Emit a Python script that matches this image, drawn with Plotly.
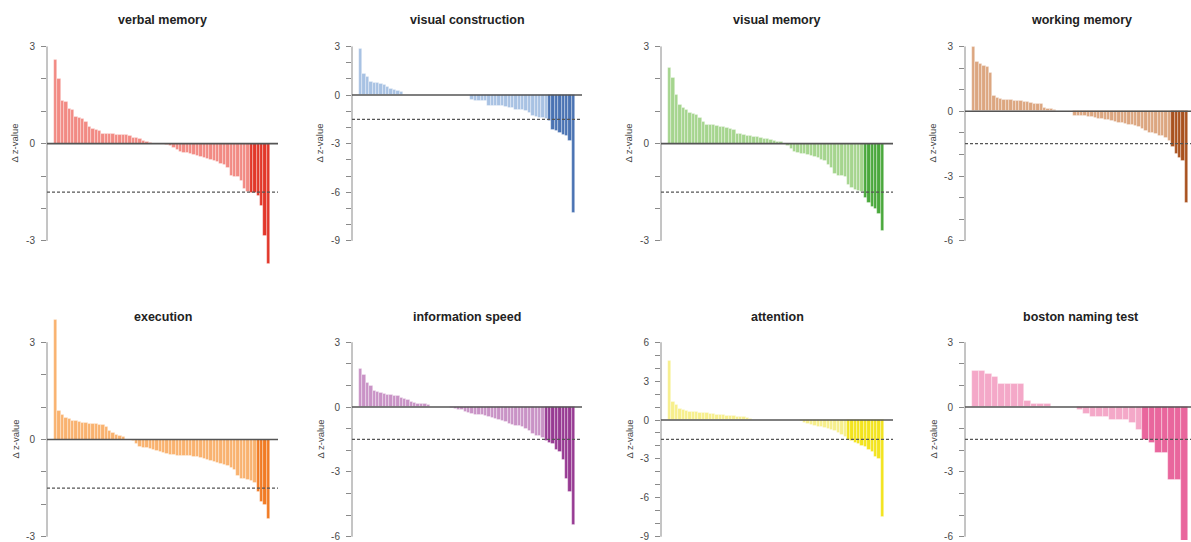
import plotly.graph_objects as go

# ---------------- data ----------------
titles = ["verbal memory", "visual construction", "visual memory", "working memory",
          "execution", "information speed", "attention", "boston naming test"]

verbal_memory = [2.6, 2.0, 1.33, 1.3, 1.08, 1.03, 0.82, 0.79, 0.77, 0.66,
                 0.53, 0.47, 0.43, 0.38, 0.31, 0.30, 0.29, 0.29, 0.28, 0.28,
                 0.27, 0.26, 0.23, 0.19, 0.17, 0.14, 0.10, 0.04, 0.02,
                 0, 0, 0, 0,
                 -0.04, -0.08, -0.13, -0.18, -0.24, -0.27, -0.29, -0.31, -0.34, -0.37,
                 -0.41, -0.44, -0.47, -0.49, -0.52, -0.57, -0.62, -0.67, -0.75, -1.0,
                 -1.02, -1.03, -1.16, -1.39, -1.49,
                 -1.52, -1.52, -1.62, -1.93, -2.85, -3.72]

visual_construction = [2.82, 1.28, 1.12, 0.81, 0.75, 0.72, 0.70, 0.60, 0.50, 0.37, 0.33, 0.27, 0.2,
                       0, 0, 0, 0, 0, 0, 0, 0, 0, 0, 0, 0, 0, 0, 0, 0, 0, 0, 0, 0,
                       -0.29, -0.33, -0.33, -0.33, -0.33, -0.66, -0.66, -0.66, -0.66, -0.66,
                       -0.75, -0.79, -0.79, -0.89, -0.89, -0.91, -0.95, -1.12, -1.26, -1.37,
                       -1.41, -1.41, -1.47,
                       -1.61, -2.15, -2.19, -2.36, -2.48, -2.5, -2.86, -7.27]

visual_memory = [2.33, 2.02, 1.51, 1.2, 1.1, 1.03, 0.94, 0.91, 0.88, 0.79,
                 0.66, 0.59, 0.58, 0.57, 0.55, 0.52, 0.51, 0.50, 0.46, 0.43,
                 0.31, 0.29, 0.27, 0.25, 0.23, 0.22, 0.21, 0.18, 0.16, 0.14,
                 0.12, 0.08, 0.06, 0.04,
                 0,
                 -0.08, -0.15, -0.24, -0.29, -0.31, -0.32, -0.34, -0.37, -0.41, -0.45,
                 -0.49, -0.54, -0.65, -0.75, -0.92, -1.0, -1.0, -1.03, -1.26, -1.36,
                 -1.42, -1.47, -1.49,
                 -1.67, -1.83, -1.95, -2.01, -2.18, -2.7]

working_memory = [2.99, 2.29, 2.17, 2.09, 2.06, 1.78, 0.70, 0.62, 0.57, 0.54,
                  0.53, 0.51, 0.50, 0.48, 0.47, 0.43, 0.42, 0.40, 0.36, 0.34,
                  0.33, 0.14, 0.12, 0.11, 0.08, 0.03,
                  0, 0, 0, 0,
                  -0.2, -0.22, -0.22, -0.23, -0.25, -0.26, -0.29, -0.34, -0.37, -0.39,
                  -0.40, -0.45, -0.51, -0.54, -0.56, -0.59, -0.62, -0.65, -0.7, -0.74,
                  -0.81, -0.91, -0.98, -1.01, -1.07, -1.13, -1.16, -1.24, -1.35,
                  -1.66, -1.97, -2.16, -2.31, -4.26]

execution = [3.69, 0.87, 0.77, 0.67, 0.64, 0.58, 0.56, 0.54, 0.52, 0.51,
             0.49, 0.48, 0.47, 0.46, 0.44, 0.40, 0.26, 0.21, 0.15, 0.11, 0.07,
             0, 0,
             -0.05, -0.15, -0.24, -0.26, -0.27, -0.28, -0.31, -0.34, -0.38, -0.41,
             -0.44, -0.46, -0.48, -0.49, -0.50, -0.50, -0.51, -0.52, -0.53, -0.54,
             -0.56, -0.59, -0.64, -0.67, -0.69, -0.72, -0.75, -0.77, -0.82, -0.89,
             -0.95, -1.13, -1.21, -1.23, -1.26, -1.28, -1.33,
             -1.62, -1.92, -2.03, -2.46]

information_speed = [1.77, 1.49, 1.11, 0.97, 0.77, 0.69, 0.66, 0.62, 0.57, 0.55,
                     0.54, 0.54, 0.42, 0.38, 0.32, 0.26, 0.2, 0.15, 0.15, 0.14, 0.08, 0.03,
                     0, 0, 0, 0, 0,
                     -0.05, -0.08, -0.11, -0.15, -0.2, -0.26, -0.32, -0.34, -0.35, -0.38,
                     -0.42, -0.46, -0.49, -0.54, -0.58, -0.63, -0.69, -0.77, -0.82, -0.85,
                     -0.88, -0.91, -1.0, -1.12, -1.22, -1.31, -1.35, -1.43,
                     -1.58, -1.65, -1.71, -2.0, -2.08, -2.42, -3.31, -3.92, -5.46]

attention = [4.59, 1.43, 1.15, 0.84, 0.77, 0.71, 0.66, 0.64, 0.61, 0.59,
             0.56, 0.54, 0.51, 0.46, 0.43, 0.41, 0.38, 0.36, 0.33, 0.31,
             0.28, 0.26, 0.23, 0.18, 0.1,
             0, 0, 0, 0, 0, 0, 0, 0, 0, 0, 0, 0, 0, 0,
             -0.1, -0.2, -0.31, -0.41, -0.46, -0.51, -0.56, -0.61, -0.69, -0.77,
             -0.87, -0.97, -1.12, -1.28,
             -1.53, -1.63, -1.73, -1.84, -1.96, -2.09, -2.3, -2.47, -2.86, -2.98, -7.5]

boston_naming = [1.69, 1.69, 1.54, 1.38, 1.08, 1.08, 1.08, 1.08, 0.31, 0.15, 0.15, 0.15,
                 0, 0, 0, 0,
                 -0.12, -0.32, -0.46, -0.46, -0.46, -0.6, -0.6, -0.6, -0.74, -1.05,
                 -1.52, -1.66, -2.12, -2.12, -3.38, -3.38, -6.4]

series = [verbal_memory, visual_construction, visual_memory, working_memory,
          execution, information_speed, attention, boston_naming]

tick_ranges = [(-3, 3), (-9, 3), (-3, 3), (-6, 3),
               (-3, 3), (-6, 3), (-9, 6), (-6, 3)]

threshold = -1.5

light_colors = ["#F28A83", "#A8C2E3", "#A5D58E", "#DCA680",
                "#F9B26F", "#C993C6", "#F7EF8C", "#F4A8C8"]
dark_colors = ["#E2372A", "#4A73B3", "#4AA83C", "#A9521F",
               "#F17B24", "#973B93", "#F3E41E", "#E9669D"]

# ---------------- layout geometry (pixels) ----------------
W, H = 1191, 542
col_left = [47, 352, 661, 965]
col_right = [278, 582, 893, 1191]
bar_pad_left = 7
bar_span = 216
rows = [  # plot-area top, bottom, pixel of tick-high, pixel of tick-low, title y
    dict(top=36, bottom=276, hi_px=46.6, lo_px=241.7, title_y=20),
    dict(top=312, bottom=542, hi_px=343.5, lo_px=538.7, title_y=318),
]

fig = go.Figure()
layout = dict(
    width=W, height=H, margin=dict(l=0, r=0, t=0, b=0),
    plot_bgcolor="white", paper_bgcolor="white",
    showlegend=False, bargap=0,
    font=dict(family="Liberation Sans, Arial, sans-serif", color="#444"),
)
shapes = []
annotations = []

for i, vals in enumerate(series):
    r, c = divmod(i, 4)
    row = rows[r]
    n = len(vals)
    k = "" if i == 0 else str(i + 1)
    xa, ya = "x" + k, "y" + k

    colors = [dark_colors[i] if v < threshold else light_colors[i] for v in vals]
    fig.add_trace(go.Bar(
        x=list(range(1, n + 1)), y=vals, marker_color=colors,
        marker_line=dict(color="rgba(255,255,255,0.55)", width=0.6),
        xaxis=xa, yaxis=ya, hoverinfo="y"))

    L, R = col_left[c], col_right[c]
    ppb = bar_span / n
    bs = L + bar_pad_left
    be = bs + bar_span
    x0 = 0.5 - bar_pad_left / ppb
    x1 = n + 0.5 + (R - be) / ppb

    lo, hi = tick_ranges[i]
    ppu = (row["lo_px"] - row["hi_px"]) / (hi - lo)
    y_top = hi + (row["hi_px"] - row["top"]) / ppu
    y_bot = lo - (row["bottom"] - row["lo_px"]) / ppu

    tv = list(range(lo, hi + 1))
    tt = [str(v) if v % 3 == 0 else "" for v in tv]

    layout["xaxis" + k] = dict(domain=[L / W, R / W], range=[x0, x1], visible=False,
                               anchor=ya, fixedrange=True)
    layout["yaxis" + k] = dict(domain=[1 - row["bottom"] / H, 1 - row["top"] / H],
                               range=[y_bot, y_top], anchor=xa,
                               showgrid=False, zeroline=False, showline=False,
                               tickvals=tv, ticktext=tt, ticks="outside", ticklen=5,
                               tickwidth=1, tickcolor="#8a8a8a", ticklabelstandoff=4,
                               ticklabeloverflow="allow",
                               tickfont=dict(size=10, color="#4a4a4a"), fixedrange=True)

    # y axis line only over the tick range
    shapes.append(dict(type="line", xref=xa + " domain", yref=ya, x0=0, x1=0,
                       y0=lo, y1=hi, line=dict(color="#8a8a8a", width=1)))
    # zero line
    shapes.append(dict(type="line", xref=xa + " domain", yref=ya, x0=0, x1=1,
                       y0=0, y1=0, line=dict(color="#555555", width=1.6), layer="above"))
    # dashed threshold line
    shapes.append(dict(type="line", xref=xa + " domain", yref=ya, x0=0, x1=1,
                       y0=threshold, y1=threshold,
                       line=dict(color="#555555", width=1.2, dash="3px,2px"), layer="above"))

    # panel title
    cx = (L + (R if c < 3 else 1197)) / 2
    annotations.append(dict(text="<b>" + titles[i] + "</b>", xref="paper", yref="paper",
                            x=cx / W, y=1 - row["title_y"] / H, showarrow=False,
                            xanchor="center", yanchor="middle",
                            font=dict(size=12.5, color="#222")))
    # y-axis title
    annotations.append(dict(text="\u0394 z-value", xref="paper", yref="paper",
                            x=(L - 32) / W, y=1 - ((row["hi_px"] + row["lo_px"]) / 2) / H,
                            showarrow=False, textangle=-90, xanchor="center", yanchor="middle",
                            font=dict(size=9.5, color="#444")))

layout["shapes"] = shapes
layout["annotations"] = annotations
fig.update_layout(**layout)
fig.write_html("out.html", config={"displayModeBar": False},
               post_script="document.body.style.margin='0';document.body.style.overflow='hidden';")
